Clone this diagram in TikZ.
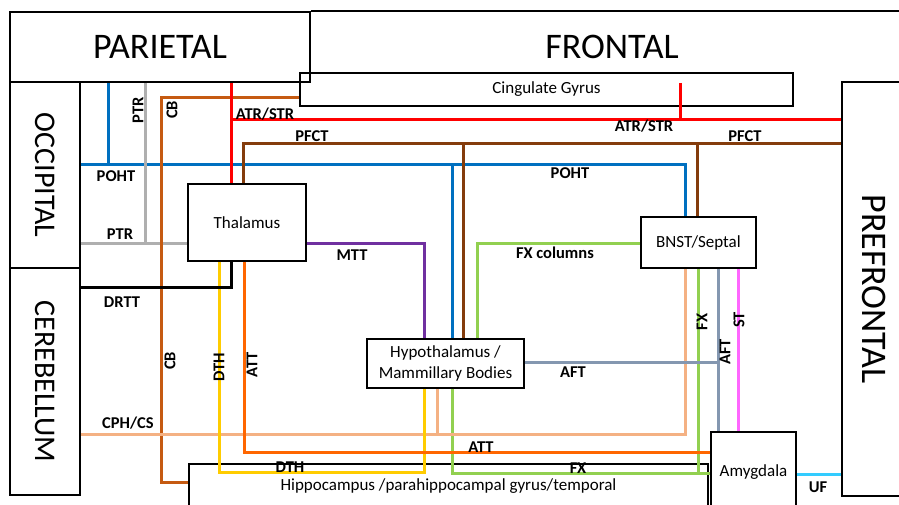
\documentclass[tikz,border=0pt]{standalone}
\usepackage{fontspec}
\usepackage{graphicx}
\setsansfont{Carlito}
\usetikzlibrary{positioning, calc}
\definecolor{pohtblue}{HTML}{0070C0}
\definecolor{ptrgray}{HTML}{AFAFAF}
\definecolor{cbrust}{HTML}{C55A11}
\definecolor{atrred}{HTML}{FF0000}
\definecolor{pfctbrown}{HTML}{843C0C}
\definecolor{mttpurple}{HTML}{7030A0}
\definecolor{fxgreen}{HTML}{92D050}
\definecolor{cphsalmon}{HTML}{F4B183}
\definecolor{dthyellow}{HTML}{FFCC00}
\definecolor{attorange}{HTML}{FF6600}
\definecolor{aftslate}{HTML}{8497B0}
\definecolor{stpink}{HTML}{FF66FF}
\definecolor{ufcyan}{HTML}{33CCFF}
\tikzset{
  lobebox/.style={
    draw=black,
    line width=1.6pt,
    inner sep=0pt,
    font=\sffamily\fontsize{36}{40}\selectfont
  },
  areabox/.style={
    draw=black,
    line width=1.6pt,
    inner sep=0pt,
    align=center,
    font=\sffamily\fontsize{17}{21}\selectfont
  },
  fibre/.style={
    line width=3pt
  },
  tractlabel/.style={
    inner sep=0pt,
    font=\sffamily\bfseries\fontsize{16.5}{18}\selectfont
  }
}

\begin{document}
\begin{tikzpicture}[x=1pt, y=-1pt]
  \useasboundingbox (0,0) rectangle (899,504);
  \clip (0,0) rectangle (899,504);

  % Lobes
  \node (par) [lobebox, minimum width=300pt, minimum height=70pt] at (160,47) {PARIETAL};
  \node (fro) [lobebox, draw=none] at (612,47) {FRONTAL};
  \node (occ) [lobebox, minimum width=70pt, minimum height=186pt, font=\sffamily\fontsize{30}{34}\selectfont] at (45,175) {\rotatebox{-90}{OCCIPITAL}};
  \node (cer) [lobebox, minimum width=70pt, minimum height=227pt, font=\sffamily\fontsize{30}{34}\selectfont] at (45,381.5) {\rotatebox{-90}{CEREBELLUM}};
  \node (pref) [lobebox, minimum width=64pt, minimum height=414pt] at (874,289) {\rotatebox{-90}{PREFRONTAL}};
  \draw [line width=1.6pt] (par.north east) -- (par.north east -| pref.east);

  % Areas
  \node (cing) [areabox, minimum width=493pt, minimum height=33pt] at (546.5,89.5) {Cingulate Gyrus};
  \node (thal) [areabox, minimum width=118pt, minimum height=77pt] at (247,222.5) {Thalamus};
  \node (bnst) [areabox, minimum width=115pt, minimum height=51pt] at (698.5,242.5) {BNST/Septal};
  \node (hypo) [areabox, minimum width=157pt, minimum height=49pt] at (445.5,363.5) {Hypothalamus /\\Mammillary Bodies};
  \node (amyg) [areabox, minimum width=85pt, minimum height=80pt] at (753.5,472) {Amygdala};
  \node (hippo) [areabox, minimum width=519pt, minimum height=44pt] at (448.5,486) {Hippocampus /parahippocampal gyrus/temporal};

  % Bends of the tracts
  \coordinate (pohtA) at (108,164);
  \coordinate (pohtB) at (685,164);
  \coordinate (pohtC) at (452,164);
  \coordinate (ptrA) at (145,243);
  \coordinate (cbA) at (161,97);
  \coordinate (cbB) at (161,482);
  \coordinate (atrA) at (231,119);
  \coordinate (atrB) at (680,119);
  \coordinate (pfctA) at (243,143);
  \coordinate (pfctB) at (463,143);
  \coordinate (pfctC) at (697,143);
  \coordinate (mttA) at (424,243);
  \coordinate (fxcA) at (477,243);
  \coordinate (fxA) at (452,473);
  \coordinate (fxB) at (698,473);
  \coordinate (cphA) at (685,434);
  \coordinate (cphB) at (437,434);
  \coordinate (dthA) at (219,472);
  \coordinate (dthB) at (424,472);
  \coordinate (attA) at (244,452);
  \coordinate (drttA) at (231,287);
  \coordinate (aftA) at (718,362);
  \coordinate (stA) at (738,300);
  \coordinate (ufA) at (820,474);

  % Tracts
  \draw [fibre, pohtblue] (pohtA |- par.south) -- (pohtA);
  \draw [fibre, pohtblue] (pohtA -| occ.east) -- (pohtB) -- (pohtB |- bnst.north);
  \draw [fibre, pohtblue] (pohtC) -- (pohtC |- hypo.north);
  \draw [fibre, ptrgray] (ptrA |- par.south) -- (ptrA);
  \draw [fibre, ptrgray] (ptrA -| occ.east) -- (ptrA -| thal.west);
  \draw [fibre, cbrust] (cbA -| cing.west) -- (cbA) -- (cbB) -- (cbB -| hippo.west);
  \draw [fibre, atrred] (atrA |- par.south) -- (atrA |- thal.north);
  \draw [fibre, atrred] (atrA) -- (atrA -| pref.west);
  \draw [fibre, atrred] (atrB |- par.south) -- (atrB);
  \draw [fibre, pfctbrown] (pfctA |- thal.north) -- (pfctA) -- (pfctA -| pref.west);
  \draw [fibre, pfctbrown] (pfctB) -- (pfctB |- hypo.north);
  \draw [fibre, pfctbrown] (pfctC) -- (pfctC |- bnst.north);
  \draw [fibre, mttpurple] (mttA -| thal.east) -- (mttA) -- (mttA |- hypo.north);
  \draw [fibre, fxgreen] (fxcA -| bnst.west) -- (fxcA) -- (fxcA |- hypo.north);
  \draw [fibre, fxgreen] (fxA |- hypo.south) -- (fxA) -- (fxA -| amyg.west);
  \draw [fibre, fxgreen] (fxB |- bnst.south) -- (fxB);
  \draw [fibre, cphsalmon] (cphA -| cer.east) -- (cphA) -- (cphA |- bnst.south);
  \draw [fibre, cphsalmon] (cphB |- hypo.south) -- (cphB);
  \draw [fibre, dthyellow] (dthA |- thal.south) -- (dthA) -- (dthB) -- (dthB |- hypo.south);
  \draw [fibre, attorange] (attA |- thal.south) -- (attA) -- (attA -| amyg.west);
  \draw [fibre, black] (drttA |- thal.south) -- (drttA) -- (drttA -| cer.east);
  \draw [fibre, aftslate] (aftA -| hypo.east) -- (aftA);
  \draw [fibre, aftslate] (aftA |- bnst.south) -- (aftA |- amyg.north);
  \draw [fibre, stpink] (stA |- bnst.south) -- (stA |- amyg.north);
  \draw [fibre, ufcyan] (ufA -| amyg.east) -- (ufA -| pref.west);

  % Tract labels
  \node (lpohtA) [tractlabel] at (116,176) {POHT};
  \node (lpohtB) [tractlabel] at (570,173) {POHT};
  \node (lptrA) [tractlabel, rotate=90] at (138,110) {PTR};
  \node (lptrB) [tractlabel] at (120,234) {PTR};
  \node (lcbA) [tractlabel, rotate=90] at (172,110) {CB};
  \node (lcbB) [tractlabel, rotate=90] at (170,361) {CB};
  \node (latrA) [tractlabel] at (265,114) {ATR/STR};
  \node (latrB) [tractlabel] at (644,126) {ATR/STR};
  \node (lpfctA) [tractlabel] at (312,136) {PFCT};
  \node (lpfctB) [tractlabel] at (745,136) {PFCT};
  \node (lmtt) [tractlabel] at (352,255) {MTT};
  \node (lfxc) [tractlabel] at (555,253) {FX columns};
  \node (ldrtt) [tractlabel] at (122,302) {DRTT};
  \node (lcph) [tractlabel] at (128,423) {CPH/CS};
  \node (ldthA) [tractlabel, rotate=90] at (219,367) {DTH};
  \node (lattA) [tractlabel, rotate=90] at (252,365) {ATT};
  \node (ldthB) [tractlabel] at (290,467) {DTH};
  \node (lattB) [tractlabel] at (481,447) {ATT};
  \node (lfxA) [tractlabel] at (578,468) {FX};
  \node (laftA) [tractlabel] at (573,372) {AFT};
  \node (laftB) [tractlabel, rotate=90] at (725,352) {AFT};
  \node (lfxB) [tractlabel, rotate=90] at (702,322) {FX};
  \node (lst) [tractlabel, rotate=90] at (739,320) {ST};
  \node (luf) [tractlabel] at (818,487) {UF};

\end{tikzpicture}
\end{document}
